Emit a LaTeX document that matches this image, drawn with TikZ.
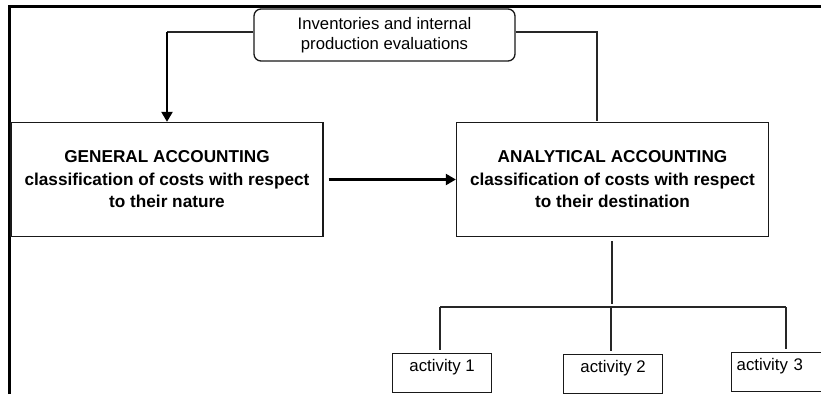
\documentclass[tikz,border=0pt]{standalone}
\usepackage{fontspec}
\setmainfont{Liberation Sans}
\usetikzlibrary{arrows.meta}
\begin{document}
\begin{tikzpicture}[x=1pt,y=-1pt,
  box/.style={draw=black!90, line width=1.3pt, inner sep=0pt, align=center},
  bigbox/.style={box, minimum width=312pt, minimum height=114pt, font=\bfseries\fontsize{17.2}{22.5}\selectfont},
  actbox/.style={box, minimum width=99pt, minimum height=39pt, anchor=north west, text height=12pt, text depth=15.6pt, font=\fontsize{16.8}{20}\selectfont},
  topbox/.style={box, rounded corners=7pt, minimum width=261pt, minimum height=52pt, font=\fontsize{16.7}{20}\selectfont},
  thinline/.style={line width=1.2pt, draw=black!85},
  arr/.style={line width=2.2pt, -{Triangle[length=10pt,width=11pt]}},
]
\useasboundingbox (0,0) rectangle (821,394);
\clip (0,0) rectangle (821,394);
% frame
\draw[line width=3pt] (9,394) -- (9,6.5) -- (821,6.5);
% nodes
\node[topbox] (top) at (384.5,35) {Inventories and internal\\production evaluations};
\node[bigbox] (gen) at (167,179.5) {GENERAL ACCOUNTING\\classification of costs with respect\\to their nature};
\node[bigbox] (ana) at (612.5,179.5) {ANALYTICAL ACCOUNTING\\classification of costs with respect\\to their destination};
\node[actbox] (a1) at (392,353) {activity 1};
\node[actbox] (a2) at (563,354) {activity 2};
\node[actbox, minimum width=0pt, text width=89pt, inner xsep=5pt, align=left] (a3) at (731,352) {activity 3};
% connectors from top box
\coordinate (tw) at ([yshift=3pt]top.west);
\coordinate (c1) at (tw -| gen.north);
\draw[thinline] (tw) -- (c1);
\draw[arr] (c1) -- (gen.north);
\coordinate (te) at ([yshift=3pt]top.east);
\coordinate (c2) at (597,121);
\draw[thinline] (te) -| (c2);
% general -> analytical
\draw[arr, shorten <=5pt] (gen.east) -- (ana.west);
% analytical -> activities
\coordinate (hub) at (612,304);
\draw[thinline, shorten <=4pt] (ana.south -| hub) -- (hub);
\coordinate (hl) at (440,307);
\coordinate (hm) at (611,307);
\coordinate (hr) at (786,307);
\draw[thinline] (hl) -- (hr);
\draw[thinline, shorten >=3pt] (hl) -- (hl |- a1.north);
\draw[thinline, shorten >=3pt] (hm) -- (hm |- a2.north);
\draw[thinline, shorten >=3pt] (hr) -- (hr |- a3.north);
\end{tikzpicture}
\end{document}
